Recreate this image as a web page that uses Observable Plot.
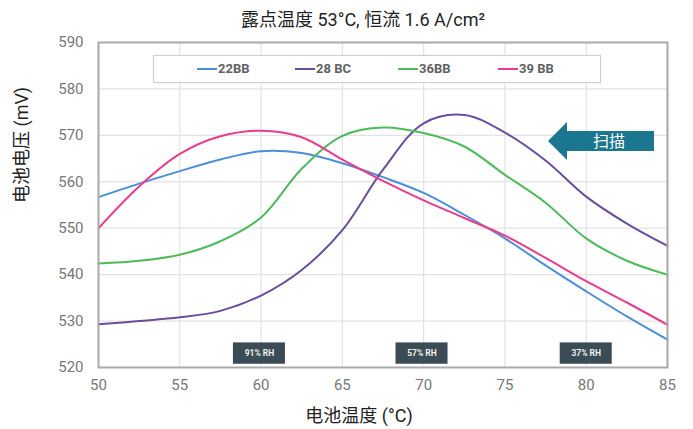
<!DOCTYPE html>
<html><head><meta charset="utf-8">
<script src="https://cdn.jsdelivr.net/npm/d3@7"></script>
<script src="https://cdn.jsdelivr.net/npm/@observablehq/plot@0.6"></script>
<style>
body{margin:0;background:#fff;font-family:Roboto,"Noto Sans CJK SC",sans-serif;}
#wrap{position:relative;width:693px;height:429px;}
#legend{position:absolute;left:153px;top:55px;width:446px;height:26px;border:1px solid #cfcfcf;background:#fff;box-shadow:0 0 1px #ddd;}
.li{position:absolute;top:4px;font-size:13px;font-weight:bold;color:#626262;line-height:18px;white-space:nowrap;}
.li span{display:inline-block;width:20px;height:2px;vertical-align:middle;margin-right:1px;position:relative;top:-1px;}
</style></head>
<body>
<div id="wrap">
<div id="chart"></div>
<div id="legend"></div>
</div>
<script>
const temps = [50, 52.5, 55, 57.5, 60, 62.5, 65, 67.5, 70, 72.5, 75, 77.5, 80, 82.5, 85];
const seriesNames = ["22BB", "28 BC", "36BB", "39 BB"];
const seriesColors = ["#4a8fd8", "#6a4d9e", "#4cbb5a", "#ec3b8c"];
const v22BB = [556.7, 559.6, 562.3, 564.8, 566.6, 566.2, 564.0, 561.0, 557.6, 552.9, 547.8, 542.0, 536.4, 531.0, 526.0];
const v28BC = [529.3, 530.0, 530.8, 532.2, 535.5, 541.0, 549.6, 562.6, 572.6, 574.4, 570.6, 564.6, 556.8, 551.0, 546.2];
const v36BB = [542.4, 543.0, 544.3, 547.2, 552.3, 562.8, 569.9, 571.7, 570.5, 567.6, 561.5, 555.5, 547.8, 543.0, 540.0];
const v39BB = [550.0, 559.0, 566.0, 569.8, 571.0, 569.6, 564.8, 560.2, 556.0, 552.2, 548.4, 543.6, 538.6, 534.0, 529.2];
const xTicks = [50, 55, 60, 65, 70, 75, 80, 85];
const yTicks = [520, 530, 540, 550, 560, 570, 580, 590];
const rhPos = [59.9, 69.9, 80];
const rhLabels = ["91% RH", "57% RH", "37% RH"];
const titleText = "露点温度 53°C, 恒流 1.6 A/cm²";
const xLabel = "电池温度 (°C)";
const yLabel = "电池电压 (mV)";
const scanLabel = "扫描";

const allValues = [v22BB, v28BC, v36BB, v39BB];
const data = [];
seriesNames.forEach((s, i) => temps.forEach((t, j) => data.push({series: s, t, v: allValues[i][j]})));
const rh = rhPos.map((t, i) => ({t, label: rhLabels[i]}));

const font = 'Roboto,"Noto Sans CJK SC",sans-serif';
const plot = Plot.plot({
  width: 693, height: 429,
  marginLeft: 98, marginRight: 26, marginTop: 42, marginBottom: 62,
  style: {fontFamily: font, background: "#fff"},
  x: {domain: [50, 85], ticks: xTicks, label: null},
  y: {domain: [520, 590], ticks: yTicks, label: null},
  color: {domain: seriesNames, range: seriesColors},
  marks: [
    Plot.gridX(xTicks, {stroke: "#e3e3e3", strokeOpacity: 1, strokeWidth: 1.2}),
    Plot.gridY(yTicks, {stroke: "#e3e3e3", strokeOpacity: 1, strokeWidth: 1.2}),
    Plot.axisX(xTicks, {tickSize: 0, tickPadding: 12, fontSize: 15, fill: "#777", label: null}),
    Plot.axisY(yTicks, {tickSize: 0, tickPadding: 15, fontSize: 15, fill: "#777", label: null}),
    Plot.rect(rh, {x1: d => d.t - 1.6, x2: d => d.t + 1.6, y1: 520.7, y2: 525.3, fill: "#3b4c57"}),
    Plot.text(rh, {x: "t", y: 523, text: "label", fill: "#eeeeee", fontSize: 8.5, fontWeight: "bold"}),
    Plot.line(data, {x: "t", y: "v", z: "series", stroke: "series", strokeWidth: 2, curve: "catmull-rom"}),
    Plot.frame({stroke: "#a9a9a9", strokeWidth: 2}),
    Plot.text([titleText], {frameAnchor: "top", lineAnchor: "middle", dx: -20, dy: -22, fontSize: 18, fill: "#222"}),
    Plot.text([xLabel], {frameAnchor: "bottom", lineAnchor: "middle", dx: -24, dy: 49, fontSize: 18, fill: "#222"}),
    Plot.text([yLabel], {frameAnchor: "left", lineAnchor: "middle", dx: -76, dy: -2, rotate: -90, fontSize: 18, fill: "#222"})
  ]
});
document.getElementById("chart").appendChild(plot);

// legend
const leg = document.getElementById("legend");
const legLeft = [43, 141, 244, 344];
seriesNames.forEach((s, i) => {
  const d = document.createElement("div");
  d.className = "li";
  d.style.left = legLeft[i] + "px";
  d.innerHTML = `<span style="background:${seriesColors[i]}"></span>${s}`;
  leg.appendChild(d);
});

// scan arrow
const ns = "http://www.w3.org/2000/svg";
const a = document.createElementNS(ns, "svg");
a.setAttribute("width", 693); a.setAttribute("height", 429);
a.style.position = "absolute"; a.style.left = "0"; a.style.top = "0"; a.style.pointerEvents = "none";
a.innerHTML = `<polygon points="548,141 567,122 567,131 654,131 654,151 567,151 567,160" fill="#1b7690"/>
<text x="609" y="141" dy="0.36em" text-anchor="middle" fill="#fff" font-size="16" font-family='"Noto Sans CJK SC",sans-serif'>${scanLabel}</text>`;
document.getElementById("wrap").appendChild(a);
</script>
</body></html>
